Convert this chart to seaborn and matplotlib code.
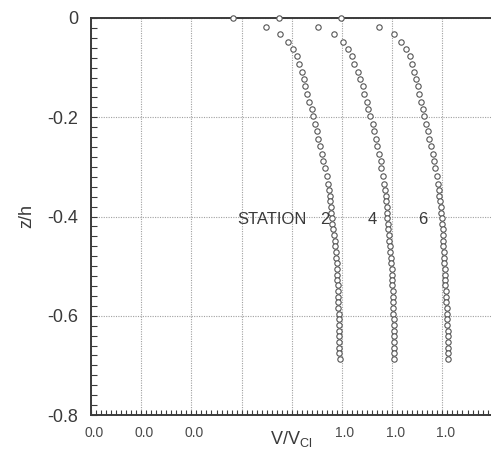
import numpy as np
import pandas as pd
import matplotlib
matplotlib.use("Agg")
import matplotlib.pyplot as plt
import matplotlib.transforms as mtransforms
from matplotlib.ticker import MultipleLocator
import seaborn as sns

# Depth below the surface (z/h), shared by all three stations
z_h = [0.0, -0.018, -0.032, -0.048, -0.062, -0.077, -0.093, -0.109, -0.123,
       -0.137, -0.153, -0.169, -0.183, -0.198, -0.214, -0.228, -0.244, -0.258,
       -0.274, -0.288, -0.302, -0.319, -0.335, -0.347,
       -0.358, -0.369, -0.381, -0.392, -0.403, -0.415, -0.426, -0.438, -0.449,
       -0.460, -0.471, -0.483, -0.494, -0.505, -0.517, -0.528, -0.539, -0.551,
       -0.562, -0.573, -0.585, -0.596, -0.607, -0.619, -0.630, -0.641, -0.653,
       -0.664, -0.675, -0.687]

# Normalised velocity V/V_Cl at each station
v_station2 = [0.566, 0.697, 0.753, 0.786, 0.804, 0.820, 0.830, 0.839, 0.849,
              0.853, 0.862, 0.870, 0.879, 0.886, 0.892, 0.899, 0.906, 0.912,
              0.919, 0.925, 0.932, 0.939, 0.945, 0.948,
              0.951, 0.953, 0.955, 0.957, 0.959, 0.962, 0.965, 0.968, 0.971,
              0.973, 0.975, 0.977, 0.979, 0.980, 0.981, 0.982, 0.983, 0.984,
              0.985, 0.986, 0.986, 0.987, 0.988, 0.988, 0.989, 0.989, 0.990,
              0.990, 0.990, 0.991]
v_station4 = [0.550, 0.705, 0.769, 0.802, 0.825, 0.839, 0.849, 0.862, 0.870,
              0.882, 0.888, 0.898, 0.904, 0.912, 0.922, 0.928, 0.935, 0.941,
              0.948, 0.955, 0.957, 0.963, 0.968, 0.972,
              0.974, 0.976, 0.978, 0.979, 0.981, 0.983, 0.985, 0.987, 0.989,
              0.991, 0.993, 0.995, 0.996, 0.998, 0.999, 1.000, 1.001, 1.002,
              1.003, 1.004, 1.004, 1.005, 1.006, 1.006, 1.007, 1.007, 1.008,
              1.008, 1.008, 1.008]
v_station6 = [0.598, 0.749, 0.806, 0.835, 0.855, 0.869, 0.879, 0.886, 0.895,
              0.902, 0.906, 0.915, 0.921, 0.928, 0.935, 0.941, 0.948, 0.955,
              0.961, 0.965, 0.971, 0.977, 0.981, 0.985,
              0.988, 0.990, 0.993, 0.995, 0.997, 0.999, 1.001, 1.002, 1.003,
              1.004, 1.006, 1.007, 1.008, 1.009, 1.010, 1.011, 1.012, 1.014,
              1.015, 1.016, 1.017, 1.018, 1.019, 1.020, 1.021, 1.022, 1.022,
              1.023, 1.023, 1.024]

stations = ["2", "4", "6"]
profiles = [v_station2, v_station4, v_station6]

x_tick_labels = ["0.0", "0.0", "0.0", "", "", "1.0", "1.0", "1.0"]
y_tick_labels = ["0", "-0.2", "-0.4", "-0.6", "-0.8"]

# Each profile is shifted right by one grid cell so they sit side by side
shift = 0.2
frames = []
for i, (name, v) in enumerate(zip(stations, profiles)):
    frames.append(pd.DataFrame({"station": name,
                                "x": np.asarray(v) + i * shift,
                                "z": z_h}))
df = pd.concat(frames, ignore_index=True)

sns.set_style("white")
plt.rcParams["font.family"] = ["Liberation Sans", "DejaVu Sans"]
plt.rcParams["mathtext.fontset"] = "custom"
plt.rcParams["mathtext.rm"] = "Liberation Sans"
plt.rcParams["mathtext.it"] = "Liberation Sans"

ink = "#3a3a3a"
W, H = 491, 470
fig = plt.figure(figsize=(W / 100, H / 100), dpi=100)
ax = fig.add_axes([91 / W, 55 / H, 400 / W, 397 / H])

ax.set_xlim(0, 400 / 251)
ax.set_ylim(-0.8, 0)

sns.scatterplot(data=df, x="x", y="z", ax=ax, marker="o", s=15,
                color="white", edgecolor="#555555", linewidth=0.8,
                legend=False, clip_on=False, zorder=5)

# ticks, grid
ax.set_xticks([0, 0.2, 0.4, 0.6, 0.8, 1.0, 1.2, 1.4])
ax.set_xticklabels(x_tick_labels)
ax.set_yticks([0, -0.2, -0.4, -0.6, -0.8])
ax.set_yticklabels(y_tick_labels)
ax.xaxis.set_minor_locator(MultipleLocator(0.02))
ax.yaxis.set_minor_locator(MultipleLocator(0.02))
ax.tick_params(axis="x", which="both", direction="in", length=3.5,
               width=0.8, color=ink, labelsize=10, labelcolor="#4a4a4a",
               pad=8, bottom=True, top=False)
ax.tick_params(axis="y", which="both", direction="in", length=4.5,
               width=0.8, color=ink, labelsize=13, labelcolor=ink, pad=9,
               left=True, right=False)
shift_lbl = mtransforms.ScaledTranslation(3 / 100, 0, fig.dpi_scale_trans)
for lbl in ax.get_xticklabels():
    lbl.set_transform(lbl.get_transform() + shift_lbl)

ax.grid(True, which="major", linestyle=(0, (1, 1.2)), linewidth=0.8,
        color="#a0a0a0")

for side in ["left", "bottom", "top"]:
    ax.spines[side].set_color(ink)
    ax.spines[side].set_linewidth(1.4)
ax.spines["right"].set_visible(False)

ax.set_xlabel(r"V/V$_{\mathrm{Cl}}$", fontsize=13, color=ink)
ax.xaxis.set_label_coords(0.5, -0.035)
ax.set_ylabel("z/h", fontsize=13, color=ink, va="center")
ax.yaxis.set_label_coords(-0.16, 0.5)

label_y = -0.407
ax.text(0.582, label_y, "STATION", fontsize=12, color=ink,
        ha="left", va="center", zorder=6)
for xpos, name in zip([0.93, 1.12, 1.32], stations):
    ax.text(xpos, label_y, name, fontsize=12, color=ink,
            ha="center", va="center", zorder=6)

fig.savefig("out.png", dpi=100)
